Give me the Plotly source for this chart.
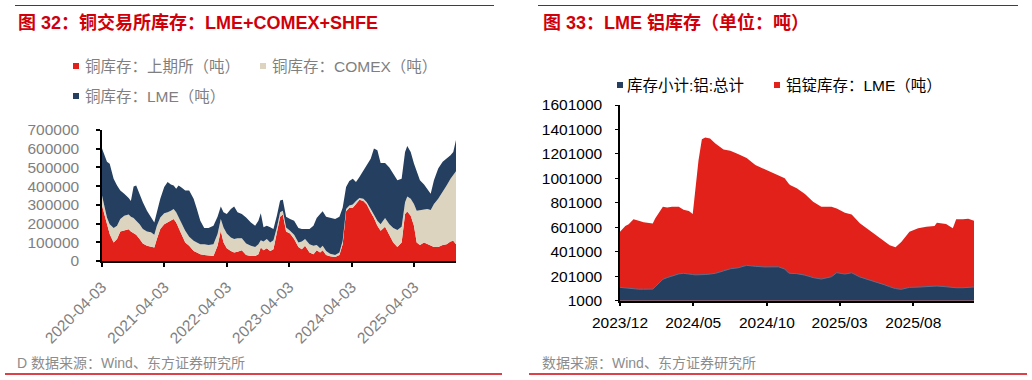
import plotly.graph_objects as go

W, H = 1032, 380

# ---------------- Figure 32: copper exchange stocks (tons) ----------------
cu_dates = [
    "2020-04-03", "2020-04-17", "2020-05-02", "2020-05-18", "2020-06-10", "2020-06-30",
    "2020-07-19", "2020-08-11", "2020-09-06", "2020-09-19", "2020-10-05", "2020-10-20",
    "2020-11-09", "2020-11-28", "2020-12-22", "2021-01-14", "2021-02-03", "2021-02-18",
    "2021-03-10", "2021-04-02", "2021-04-22", "2021-05-11", "2021-05-27", "2021-06-11",
    "2021-06-25", "2021-07-14", "2021-08-03", "2021-08-26", "2021-09-21", "2021-10-10",
    "2021-10-30", "2021-11-22", "2021-12-17", "2022-01-15", "2022-02-08", "2022-02-27",
    "2022-03-15", "2022-04-03", "2022-04-27", "2022-05-16", "2022-06-05", "2022-06-30",
    "2022-07-25", "2022-08-22", "2022-09-16", "2022-10-05", "2022-10-19", "2022-11-04",
    "2022-11-23", "2022-12-13", "2023-01-01", "2023-01-21", "2023-02-09", "2023-02-25",
    "2023-03-16", "2023-04-08", "2023-05-02", "2023-05-27", "2023-06-16", "2023-07-05",
    "2023-07-31", "2023-08-23", "2023-09-11", "2023-10-01", "2023-10-16", "2023-11-05",
    "2023-11-28", "2023-12-28", "2024-01-22", "2024-02-10", "2024-03-01", "2024-03-20",
    "2024-04-09", "2024-04-28", "2024-05-18", "2024-06-10", "2024-06-30", "2024-07-23",
    "2024-08-11", "2024-08-31", "2024-09-19", "2024-10-15", "2024-11-09", "2024-12-02",
    "2024-12-26", "2025-01-20", "2025-02-09", "2025-02-22", "2025-03-14", "2025-04-02",
    "2025-04-18", "2025-05-07", "2025-05-31", "2025-06-19", "2025-07-09", "2025-07-28",
    "2025-08-22", "2025-09-17", "2025-10-10", "2025-11-02", "2025-11-18", "2025-12-04",
]
cu_shfe = [
    296000, 251000, 197000, 144000, 99000, 117000, 158000, 165000, 169000, 158000,
    151000, 140000, 117000, 93000, 81000, 75000, 72000, 117000, 171000, 197000,
    206000, 215000, 224000, 206000, 179000, 135000, 99000, 81000, 54000, 45000,
    36000, 32000, 31000, 27000, 81000, 161000, 99000, 68000, 54000, 45000,
    50000, 57000, 32000, 27000, 27000, 36000, 72000, 57000, 68000, 54000,
    63000, 144000, 237000, 248000, 158000, 147000, 117000, 75000, 63000, 81000,
    45000, 36000, 57000, 45000, 57000, 32000, 25000, 22000, 32000, 90000,
    266000, 284000, 284000, 305000, 327000, 320000, 302000, 260000, 230000, 188000,
    162000, 183000, 140000, 99000, 75000, 99000, 251000, 264000, 242000, 188000,
    99000, 86000, 99000, 90000, 81000, 75000, 75000, 86000, 90000, 104000,
    108000, 90000,
]
cu_comex = [
    54000, 36000, 36000, 53000, 77000, 71000, 66000, 77000, 79000, 79000,
    79000, 75000, 80000, 78000, 77000, 78000, 68000, 71000, 62000, 58000,
    54000, 54000, 54000, 54000, 54000, 62000, 63000, 48000, 54000, 54000,
    54000, 58000, 55000, 63000, 63000, 63000, 80000, 79000, 72000, 72000,
    72000, 65000, 61000, 54000, 48000, 54000, 39000, 47000, 49000, 45000,
    48000, 35000, 23000, 21000, 21000, 15000, 23000, 24000, 41000, 36000,
    45000, 45000, 29000, 23000, 24000, 22000, 14000, 10000, 13000, 18000,
    12000, 12000, 18000, 15000, 10000, 12000, 12000, 18000, 18000, 27000,
    35000, 47000, 57000, 77000, 90000, 84000, 63000, 81000, 90000, 117000,
    170000, 187000, 179000, 188000, 192000, 230000, 257000, 282000, 314000, 336000,
    350000, 389000,
]
cu_lme = [
    251000, 278000, 297000, 323000, 264000, 216000, 153000, 117000, 89000, 83000,
    168000, 189000, 158000, 143000, 111000, 80000, 66000, 72000, 99000, 140000,
    162000, 140000, 126000, 126000, 171000, 194000, 215000, 248000, 224000, 179000,
    125000, 86000, 90000, 98000, 93000, 67000, 81000, 104000, 152000, 174000,
    138000, 129000, 140000, 125000, 113000, 125000, 144000, 76000, 71000, 81000,
    60000, 63000, 63000, 58000, 58000, 62000, 75000, 77000, 67000, 54000,
    81000, 107000, 144000, 183000, 185000, 183000, 191000, 192000, 192000, 176000,
    117000, 131000, 138000, 102000, 112000, 153000, 198000, 269000, 353000, 377000,
    327000, 294000, 302000, 291000, 266000, 257000, 269000, 269000, 251000, 216000,
    207000, 158000, 131000, 108000, 86000, 126000, 162000, 162000, 143000, 125000,
    125000, 167000,
]
cu_names = ["铜库存：上期所（吨）", "铜库存：COMEX（吨）", "铜库存：LME（吨）"]
cu_tickvals = ["2020-04-03", "2021-04-03", "2022-04-03", "2023-04-03", "2024-04-03", "2025-04-03"]
cu_yticks = [0, 100000, 200000, 300000, 400000, 500000, 600000, 700000]

# ---------------- Figure 33: LME aluminium stocks (tons) ----------------
al_dates = [
    "2023-12-01", "2023-12-12", "2023-12-19", "2023-12-29", "2024-01-09", "2024-01-19",
    "2024-02-07", "2024-02-12", "2024-02-28", "2024-03-08", "2024-03-18", "2024-04-01",
    "2024-04-11", "2024-04-22", "2024-04-30", "2024-05-05", "2024-05-12", "2024-05-19",
    "2024-05-26", "2024-06-05", "2024-06-16", "2024-07-03", "2024-07-17", "2024-08-02",
    "2024-08-20", "2024-09-07", "2024-09-27", "2024-10-25", "2024-11-07", "2024-11-15",
    "2024-11-18", "2024-12-02", "2024-12-19", "2025-01-05", "2025-01-22", "2025-02-12",
    "2025-02-23", "2025-03-12", "2025-03-26", "2025-04-12", "2025-04-26", "2025-05-17",
    "2025-06-03", "2025-06-13", "2025-06-25", "2025-07-07", "2025-07-24", "2025-08-11",
    "2025-08-28", "2025-09-14", "2025-09-19", "2025-10-08", "2025-10-22", "2025-10-29",
    "2025-11-12", "2025-11-23", "2025-12-05",
]
al_total = [
    110000, 105000, 100000, 95000, 95000, 95000, 96000, 115000, 176000, 190000,
    205000, 220000, 225000, 222000, 215000, 212000, 211000, 213000, 215000, 219000,
    225000, 245000, 262000, 270000, 290000, 282000, 277000, 278000, 260000, 228000,
    225000, 222000, 210000, 190000, 178000, 197000, 230000, 219000, 229000, 195000,
    178000, 157000, 130000, 115000, 100000, 94000, 110000, 112000, 115000, 122000,
    121000, 115000, 108000, 107000, 107000, 112000, 113000,
]
al_lme = [
    564000, 611000, 627000, 666000, 654000, 643000, 633000, 674000, 769000, 764000,
    769000, 769000, 745000, 735000, 709000, 900000, 1150000, 1320000, 1336000, 1328000,
    1287000, 1238000, 1227000, 1200000, 1168000, 1110000, 1075000, 1029000, 1002000, 960000,
    947000, 920000, 874000, 811000, 769000, 770000, 755000, 720000, 705000, 634000,
    593000, 538000, 483000, 455000, 437000, 480000, 565000, 593000, 606000, 611000,
    639000, 629000, 593000, 666000, 666000, 670000, 654000,
]
al_names = ["库存小计:铝:总计", "铝锭库存：LME（吨）"]
al_tickvals = ["2023-12-01", "2024-05-01", "2024-10-01", "2025-03-01", "2025-08-01"]
al_ticktext = ["2023/12", "2024/05", "2024/10", "2025/03", "2025/08"]
al_yticks = [1000, 201000, 401000, 601000, 801000, 1001000, 1201000, 1401000, 1601000]

RED = "#e2211b"
BEIGE = "#ddd4bf"
NAVY = "#243f5f"
TITLE_RED = "#d0000b"
FONT = "Liberation Sans, Arial, Noto Sans CJK SC, sans-serif"


def px(x):
    return x / W


def py(y):
    return 1 - y / H


fig = go.Figure()

cu_colors = [RED, BEIGE, NAVY]
for name, vals, col in zip(cu_names, [cu_shfe, cu_comex, cu_lme], cu_colors):
    fig.add_trace(go.Scatter(
        x=cu_dates, y=vals, name=name, mode="lines", stackgroup="cu",
        line=dict(width=0, color=col), fillcolor=col, xaxis="x", yaxis="y",
        showlegend=False,
    ))

fig.add_trace(go.Scatter(
    x=al_dates, y=al_lme, name=al_names[1], mode="lines", fill="tozeroy",
    line=dict(width=0, color=RED), fillcolor=RED, xaxis="x2", yaxis="y2",
    showlegend=False,
))
fig.add_trace(go.Scatter(
    x=al_dates, y=al_total, name=al_names[0], mode="lines", fill="tozeroy",
    line=dict(width=1, color="#5a7090"), fillcolor=NAVY, xaxis="x2", yaxis="y2",
    showlegend=False,
))

gray = "#7f7f7f"
fig.update_layout(
    width=W, height=H, autosize=False,
    margin=dict(l=0, r=0, t=0, b=0, autoexpand=False),
    paper_bgcolor="white", plot_bgcolor="white",
    font=dict(family=FONT, size=15, color=gray),
    xaxis=dict(
        domain=[px(102), px(456)], anchor="y", type="date", automargin=False,
        range=[cu_dates[0], cu_dates[-1]],
        tickmode="array", tickvals=cu_tickvals, ticktext=cu_tickvals,
        tickangle=-45, ticks="outside", ticklen=4, tickwidth=1.5, tickcolor="black",
        showline=True, linecolor="black", linewidth=2, showgrid=False, zeroline=False,
        tickfont=dict(size=15.5, color=gray, family=FONT), ticklabelstandoff=5,
    ),
    yaxis=dict(
        domain=[py(261), py(130)], anchor="x", range=[0, 700000], automargin=False,
        tickmode="array", tickvals=cu_yticks, ticktext=[str(v) for v in cu_yticks],
        ticks="outside", ticklen=4, tickwidth=1.5, tickcolor="black",
        showline=True, linecolor="black", linewidth=1.5, showgrid=False, zeroline=False,
        tickfont=dict(size=15.5, color=gray, family=FONT), ticklabelstandoff=14,
    ),
    xaxis2=dict(
        domain=[px(620), px(974)], anchor="y2", type="date", automargin=False,
        range=[al_dates[0], al_dates[-1]],
        tickmode="array", tickvals=al_tickvals, ticktext=al_ticktext,
        tickangle=0, ticks="outside", ticklen=4, tickwidth=1.5, tickcolor="black",
        showline=True, linecolor="black", linewidth=1.5, showgrid=False, zeroline=False,
        tickfont=dict(size=15.5, color="black", family=FONT), ticklabelstandoff=3,
    ),
    yaxis2=dict(
        domain=[py(300.7), py(105)], anchor="x2", range=[1000, 1601000], automargin=False,
        tickmode="array", tickvals=al_yticks, ticktext=[str(v) for v in al_yticks],
        ticks="outside", ticklen=3, tickwidth=1, tickcolor="black",
        showline=True, linecolor="black", linewidth=1.5, showgrid=False, zeroline=False,
        tickfont=dict(size=15.5, color="black", family=FONT), ticklabelstandoff=10,
    ),
)

shapes = [
    dict(type="line", xref="paper", yref="paper", x0=px(15), x1=px(494), y0=py(5.5), y1=py(5.5),
         line=dict(color=TITLE_RED, width=1)),
    dict(type="line", xref="paper", yref="paper", x0=px(538), x1=px(1018), y0=py(5.5), y1=py(5.5),
         line=dict(color=TITLE_RED, width=1)),
    dict(type="line", xref="paper", yref="paper", x0=px(5), x1=px(502), y0=py(374), y1=py(374),
         line=dict(color=TITLE_RED, width=1.5)),
    dict(type="line", xref="paper", yref="paper", x0=px(529), x1=px(1027), y0=py(374), y1=py(374),
         line=dict(color=TITLE_RED, width=1.5)),
]


def square(x, yc, col, s=6):
    return dict(type="rect", xref="paper", yref="paper",
                x0=px(x), x1=px(x + s), y0=py(yc + s / 2), y1=py(yc - s / 2),
                fillcolor=col, line=dict(width=0))


shapes += [
    square(73, 66, RED), square(260, 66, BEIGE), square(73, 96, NAVY),
    square(617, 85, NAVY), square(774, 85, RED),
]

annotations = []


def text(x, yc, s, size, color, bold=False):
    annotations.append(dict(
        xref="paper", yref="paper", x=px(x), y=py(yc), xanchor="left", yanchor="middle",
        text=("<b>%s</b>" % s) if bold else s, showarrow=False,
        font=dict(family=FONT, size=size, color=color),
    ))


text(16, 23, "图 32：铜交易所库存：LME+COMEX+SHFE", 18, TITLE_RED, True)
text(541, 23, "图 33：LME 铝库存（单位：吨）", 18, TITLE_RED, True)
text(83, 66, cu_names[0], 15.5, gray)
text(270, 66, cu_names[1], 15.5, gray)
text(83, 96, cu_names[2], 15.5, gray)
text(625, 85, al_names[0], 15.5, "black")
text(784, 85, al_names[1], 15.5, "black")
text(15, 363, "D 数据来源：Wind、东方证券研究所", 14, "#8c8c8c")
text(540, 363, "数据来源：Wind、东方证券研究所", 14, "#8c8c8c")

fig.update_layout(shapes=shapes, annotations=annotations)

fig.write_html("out.html")
